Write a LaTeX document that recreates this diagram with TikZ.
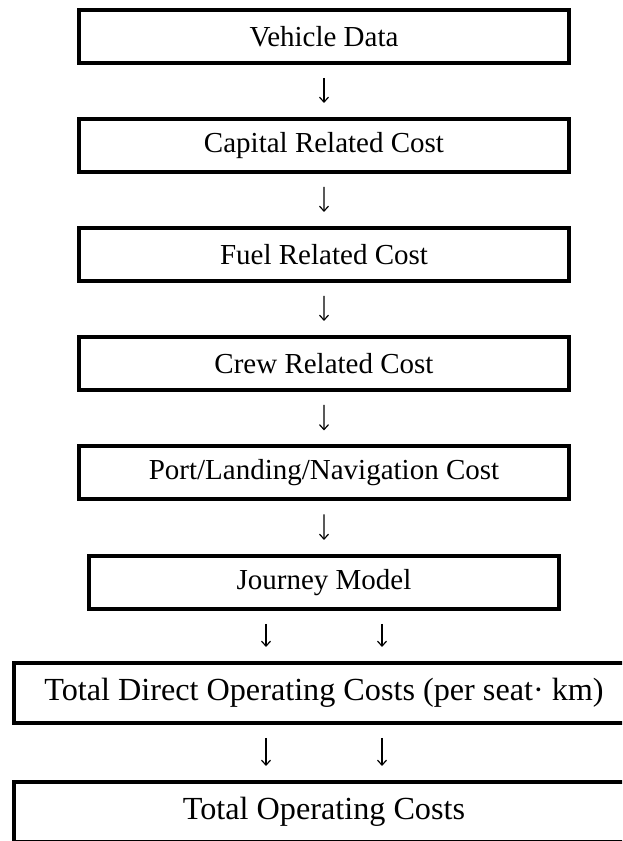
\documentclass[tikz,border=0pt]{standalone}
\usepackage{fontspec}
\setmainfont{Liberation Serif}
\usetikzlibrary{arrows.meta}

\begin{document}
\begin{tikzpicture}[x=1pt, y=1pt,
		every node/.style = {shape=rectangle, draw, line width=4pt, align=center, font=\fontsize{29}{34}\selectfont},
		costbox/.style = {minimum width=490pt, minimum height=53pt},
		widebox/.style = {minimum width=620pt, minimum height=60pt, font=\fontsize{32.2}{38}\selectfont},
		flow/.style = {draw, line width=1.2pt, -{Straight Barb[length=5pt,width=9pt]}, shorten <=13pt, shorten >=14pt}]
			\path [use as bounding box, clip] (0,0) rectangle (622,841);
			\path [edge from parent/.style={flow}]
			node (vd) [costbox] at (324,804.5) {Vehicle Data}
			[level distance=109pt]
			child {node (crc) [costbox] {Capital Related Cost}
				child {node (frc) [costbox] {Fuel Related Cost}
					child {node (cwc) [costbox] {Crew Related Cost}
						[level distance=109.5pt]
						child {node (plnc) [costbox] {Port/Landing/Navigation Cost}
							child {node (jm) [costbox, minimum width=470pt] {Journey Model}
								[level distance=110.5pt]
								child {node (tdoc) [widebox] {Total Direct Operating Costs (per seat· km)}
									[level distance=119pt]
									child {node (toc) [widebox] {Total Operating Costs}
										edge from parent [draw=none]}
									edge from parent [draw=none]}
							}
						}
					}
				}
			};
			% two arrows into each of the last boxes
			\foreach \dx in {-58, 58} {
				\draw [flow] ([xshift=\dx pt]jm.south) -- ([xshift=\dx pt]jm.south |- tdoc.north);
				\draw [flow] ([xshift=\dx pt]tdoc.south) -- ([xshift=\dx pt]tdoc.south |- toc.north);
			}
		\end{tikzpicture}
\end{document}
